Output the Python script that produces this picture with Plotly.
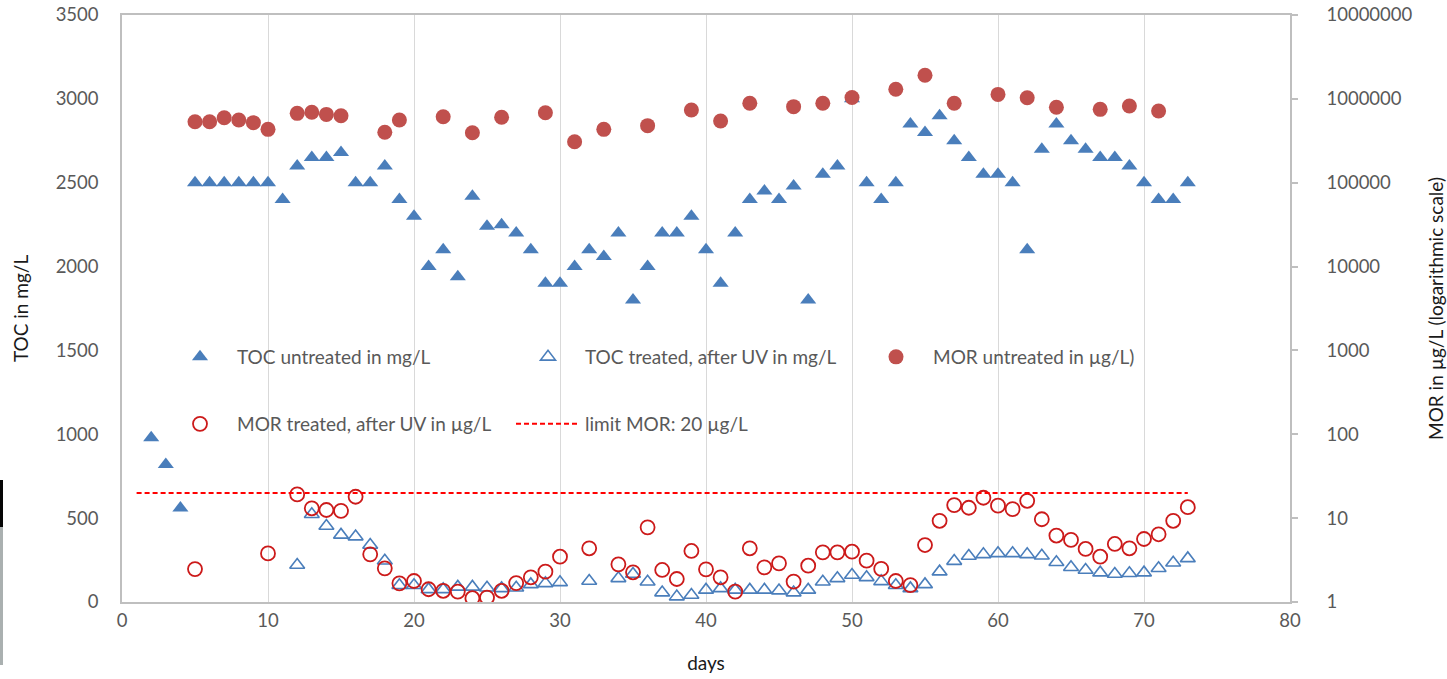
import plotly.graph_objects as go

# ---------------- data ----------------
toc_untreated_days = list(range(2, 74))
toc_untreated = [980, 820, 560,
                 2500, 2500, 2500, 2500, 2500, 2500, 2400, 2600, 2650, 2650, 2680,
                 2500, 2500, 2600, 2400, 2300, 2000, 2100, 1940, 2420, 2240, 2250,
                 2200, 2100, 1900, 1900, 2000, 2100, 2060, 2200, 1800, 2000, 2200,
                 2200, 2300, 2100, 1900, 2200, 2400, 2450, 2400, 2480, 1800, 2550,
                 2600, 3000, 2500, 2400, 2500, 2850, 2800, 2900, 2750, 2650, 2550,
                 2550, 2500, 2100, 2700, 2850, 2750, 2700, 2650, 2650, 2600, 2500,
                 2400, 2400, 2500]

toc_treated_days = [12, 13, 14, 15, 16, 17, 18, 19, 20, 21, 22, 23, 24, 25, 26, 27, 28, 29, 30,
                    32, 34, 35, 36, 37, 38, 39, 40, 41, 42, 43, 44, 45, 46, 47, 48, 49, 50,
                    51, 52, 53, 54, 55, 56, 57, 58, 59, 60, 61, 62, 63, 64, 65, 66, 67, 68,
                    69, 70, 71, 72, 73]
toc_treated = [221, 523, 453, 400, 390, 340, 246, 100, 100, 75, 75, 90, 90, 85, 81, 85, 105, 111, 117,
               125, 141, 167, 121, 56, 32, 42, 72, 81, 72, 72, 72, 68, 56, 72, 121, 141, 161,
               147, 123, 100, 81, 105, 181, 244, 274, 284, 290, 290, 284, 276, 237, 207, 191, 175, 167,
               171, 175, 201, 234, 260]

mor_untreated_days = [5, 6, 7, 8, 9, 10, 12, 13, 14, 15, 18, 19, 22, 24, 26, 29, 31, 33, 36,
                      39, 41, 43, 46, 48, 50, 53, 55, 57, 60, 62, 64, 67, 69, 71]
mor_untreated = [533e3, 533e3, 596e3, 560e3, 520e3, 433e3, 672e3, 691e3, 653e3, 629e3,
                 399e3, 560e3, 612e3, 395e3, 603e3, 684e3, 308e3, 433e3, 479e3, 736e3,
                 545e3, 885e3, 807e3, 885e3, 1.04e6, 1.30e6, 1.91e6, 885e3, 1.13e6, 1.03e6,
                 793e3, 750e3, 822e3, 716e3]

mor_treated_days = [5, 10, 12, 13, 14, 15, 16, 17, 18, 19, 20, 21, 22, 23, 24, 25, 26, 27, 28, 29, 30,
                    32, 34, 35, 36, 37, 38, 39, 40, 41, 42, 43, 44, 45, 46, 47, 48, 49, 50,
                    51, 52, 53, 54, 55, 56, 57, 58, 59, 60, 61, 62, 63, 64, 65, 66, 67, 68,
                    69, 70, 71, 72, 73]
mor_treated = [2.47, 3.8, 19.2, 13.1, 12.5, 12.2, 18.0, 3.7, 2.52, 1.67, 1.78, 1.42, 1.36, 1.33,
               1.11, 1.13, 1.36, 1.68, 1.97, 2.3, 3.47,
               4.37, 2.81, 2.26, 7.77, 2.41, 1.88, 4.06, 2.45, 1.97, 1.33, 4.37, 2.59, 2.89,
               1.75, 2.71, 3.91, 3.91, 3.98,
               3.11, 2.48, 1.78, 1.59, 4.78, 9.3, 14.3, 13.3, 17.5, 14.1, 12.8, 16.1, 9.7,
               6.2, 5.5, 4.29, 3.47, 4.92, 4.37, 5.64, 6.42, 9.3, 13.5]

limit_days = [1, 73]
limit_mor = [20, 20]

y2_ticks = [1, 10, 100, 1000, 10000, 100000, 1000000, 10000000]
y2_ticktext = [str(v) for v in y2_ticks]

# ---------------- styling ----------------
W, H = 1447, 679
ML, MR, MT, MB = 122, 157, 15, 77
PW, PH = W - ML - MR, H - MT - MB
FONT = "Lato"
GREY_TXT = "#595959"
TITLE_TXT = "#1a1a1a"
AXIS_LINE = "#bfbfbf"
BLUE = "#4a7ebb"
RED_FILL = "#c0504d"
RED_OPEN = "#cc1a1a"
TICK_SIZE = 18.5
TEXT_SIZE = 19

fig = go.Figure()

fig.add_trace(go.Scatter(
    x=toc_untreated_days, y=toc_untreated, mode="markers",
    name="TOC untreated in mg/L",
    marker=dict(symbol="triangle-up", size=14, color=BLUE, line=dict(width=0)),
    legend="legend", yaxis="y"))

fig.add_trace(go.Scatter(
    x=toc_treated_days, y=toc_treated, mode="markers",
    name="TOC treated, after UV in mg/L",
    marker=dict(symbol="triangle-up-open", size=13, color=BLUE, line=dict(width=1.6, color=BLUE)),
    legend="legend", yaxis="y"))

fig.add_trace(go.Scatter(
    x=mor_untreated_days, y=mor_untreated, mode="markers",
    name="MOR untreated in µg/L)",
    marker=dict(symbol="circle", size=15, color=RED_FILL, line=dict(width=0)),
    legend="legend", yaxis="y2"))

fig.add_trace(go.Scatter(
    x=mor_treated_days, y=mor_treated, mode="markers",
    name="MOR treated, after UV in µg/L",
    marker=dict(symbol="circle-open", size=14, color=RED_OPEN, line=dict(width=1.8, color=RED_OPEN)),
    legend="legend2", yaxis="y2"))

fig.add_trace(go.Scatter(
    x=limit_days, y=limit_mor, mode="lines",
    name="limit MOR: 20 µg/L",
    line=dict(color="#ff0000", width=2, dash="5px,3px"),
    legend="legend2", yaxis="y2"))


def px_x(p):
    return (p - ML) / PW


def px_y(p):
    return (H - MB - p) / PH


# cropped-photo artifact at far left edge
shapes = [
    dict(type="rect", xref="paper", yref="paper", x0=px_x(0), x1=px_x(3),
         y0=px_y(527), y1=px_y(480), fillcolor="#050505", line=dict(width=0), layer="above"),
    dict(type="rect", xref="paper", yref="paper", x0=px_x(0), x1=px_x(3),
         y0=px_y(665), y1=px_y(527), fillcolor="#aab0b0", line=dict(width=0), layer="above"),
]

legend_common = dict(
    orientation="h", xanchor="left", yanchor="middle",
    bgcolor="rgba(0,0,0,0)", font=dict(family=FONT, size=TEXT_SIZE, color=GREY_TXT),
    entrywidth=269, entrywidthmode="pixels", itemwidth=64,
)

fig.update_layout(
    width=W, height=H,
    margin=dict(l=ML, r=MR, t=MT, b=MB, pad=0, autoexpand=False),
    paper_bgcolor="white", plot_bgcolor="white",
    font=dict(family=FONT, size=TEXT_SIZE, color=GREY_TXT),
    shapes=shapes,
    xaxis=dict(
        range=[0, 80], dtick=10, tick0=0, automargin=False,
        showgrid=True, gridcolor="#d9d9d9", gridwidth=1,
        showline=True, linecolor=AXIS_LINE, linewidth=1.5, mirror=True,
        zeroline=False, ticks="",
        ticklabelstandoff=1,
        tickfont=dict(family=FONT, size=TICK_SIZE, color=GREY_TXT),
        title=dict(text="days", font=dict(family=FONT, size=TEXT_SIZE, color=TITLE_TXT), standoff=27),
    ),
    yaxis=dict(
        range=[0, 3500], dtick=500, tick0=0, automargin=False,
        showgrid=False, zeroline=False,
        showline=True, linecolor=AXIS_LINE, linewidth=1.5, ticks="",
        ticklabelstandoff=18,
        tickfont=dict(family=FONT, size=TICK_SIZE, color=GREY_TXT),
        title=dict(text="TOC in mg/L", font=dict(family=FONT, size=TEXT_SIZE, color=TITLE_TXT), standoff=22),
    ),
    yaxis2=dict(
        type="log", range=[0, 7], overlaying="y", side="right", automargin=False,
        tickvals=y2_ticks, ticktext=y2_ticktext,
        showgrid=False, zeroline=False,
        showline=True, linecolor=AXIS_LINE, linewidth=1.5,
        ticks="outside", ticklen=6, tickcolor=AXIS_LINE, tickwidth=1.5,
        ticklabelstandoff=25,
        tickfont=dict(family=FONT, size=TICK_SIZE, color=GREY_TXT),
        title=dict(text="MOR in µg/L (logarithmic scale)", font=dict(family=FONT, size=TEXT_SIZE, color=TITLE_TXT), standoff=18),
    ),
    legend=dict(x=px_x(163), y=px_y(357), **legend_common),
    legend2=dict(x=px_x(163), y=px_y(424), **legend_common),
    showlegend=True,
)

fig.write_html(
    "out.html",
    config={"displayModeBar": False},
    post_script="document.body.style.margin='0px';document.body.style.padding='0px';",
)
